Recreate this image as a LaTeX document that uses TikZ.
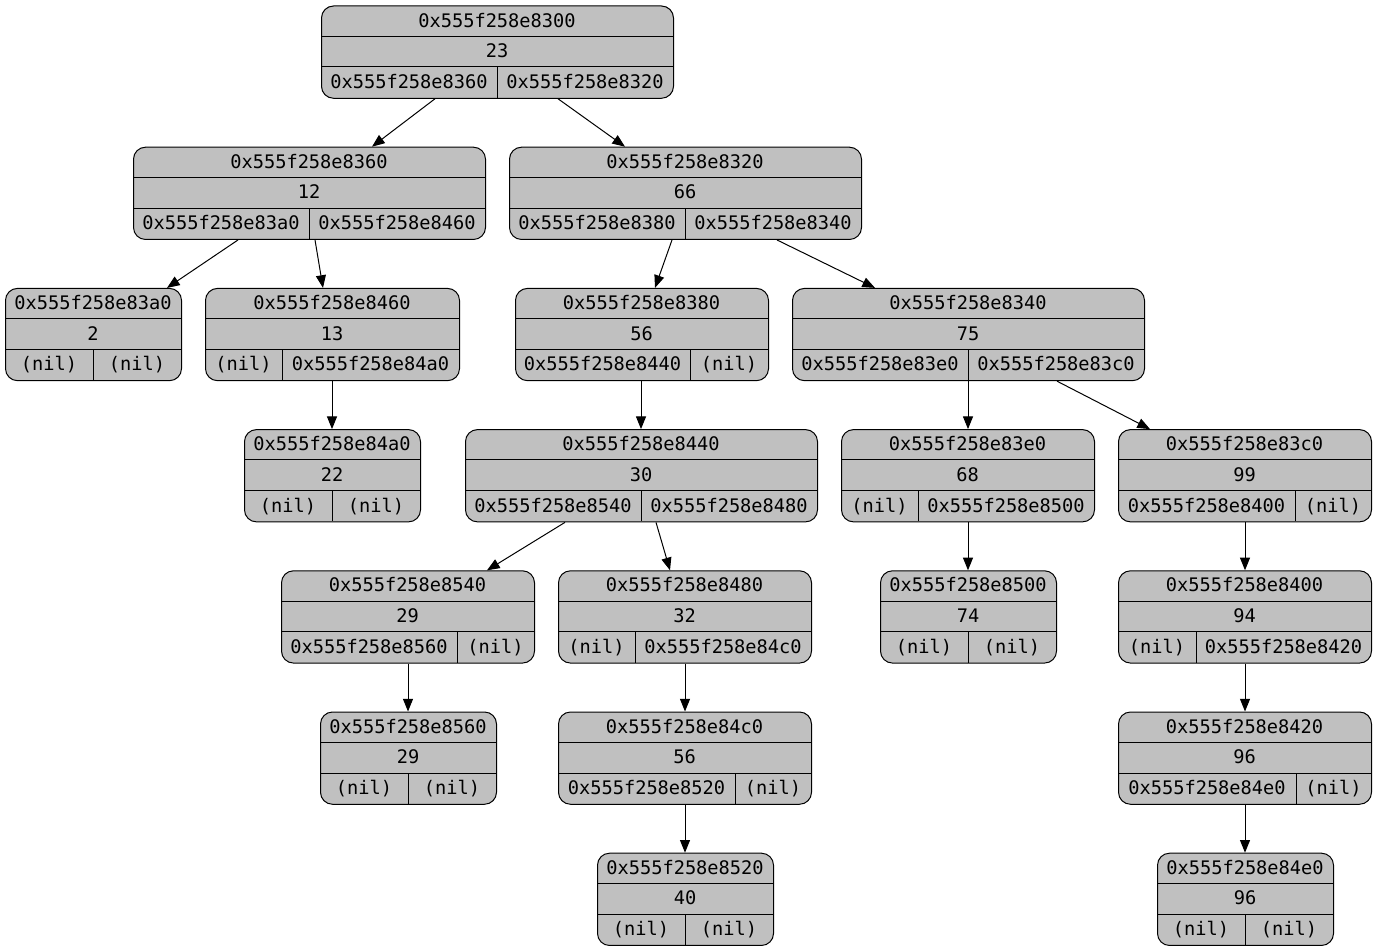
\documentclass[tikz,border=0pt]{standalone}
\usepackage{fontspec}
\setmonofont{DejaVu Sans Mono}
\usetikzlibrary{arrows.meta}
\definecolor{recgray}{HTML}{C0C0C0}
\tikzstyle{rS}=[rectangle,draw=black,fill=recgray,line width=0.75pt,rounded corners=9pt,inner sep=0pt,minimum height=69.2pt,anchor=north west]
\tikzstyle{tS}=[inner sep=0pt,font=\ttfamily\fontsize{14}{16}\selectfont,text height=10pt,text depth=3pt]
\tikzstyle{dS}=[line width=0.75pt]
\tikzstyle{eS}=[line width=0.75pt,-{Triangle[length=9.5pt,width=7.5pt]}]
% record: name, left, right, top, split, address, value, left child, right child
\newcommand{\recnode}[9]{%
  \node[rS,minimum width={(#3-#2)*0.75pt}] (#1) at (#2,#4) {};
  \node[tS] (#1a) at ({(#2+#3)/2},#4+16.9) {#6};
  \node[tS] (#1v) at ({(#2+#3)/2},#4+47.6) {#7};
  \node[tS] (#1l) at ({(#2+#5)/2},#4+78.4) {#8};
  \node[tS] (#1r) at ({(#5+#3)/2},#4+78.4) {#9};
  \draw[dS] (#2,#4+30.8) -- (#3,#4+30.8);
  \draw[dS] (#2,#4+61.5) -- (#3,#4+61.5);
  \draw[dS] (#5,#4+61.5) -- (#5,#4+92.3);
}
\begin{document}
\begin{tikzpicture}[x=0.75pt,y=-0.75pt]
  \useasboundingbox (0,0) rectangle (1377,952);
  % level 0
  \recnode{n8300}{321}{673}{5.5}{497}{0x555f258e8300}{23}{0x555f258e8360}{0x555f258e8320}
  % level 1
  \recnode{n8360}{133}{485}{146.7}{309}{0x555f258e8360}{12}{0x555f258e83a0}{0x555f258e8460}
  \recnode{n8320}{509}{861}{146.7}{685}{0x555f258e8320}{66}{0x555f258e8380}{0x555f258e8340}
  % level 2
  \recnode{n83a0}{5}{181}{287.9}{93}{0x555f258e83a0}{2}{(nil)}{(nil)}
  \recnode{n8460}{205}{459}{287.9}{282}{0x555f258e8460}{13}{(nil)}{0x555f258e84a0}
  \recnode{n8380}{515}{768}{287.9}{690}{0x555f258e8380}{56}{0x555f258e8440}{(nil)}
  \recnode{n8340}{792}{1144}{287.9}{968}{0x555f258e8340}{75}{0x555f258e83e0}{0x555f258e83c0}
  % level 3
  \recnode{n84a0}{244}{420}{429.1}{332}{0x555f258e84a0}{22}{(nil)}{(nil)}
  \recnode{n8440}{465}{817}{429.1}{641}{0x555f258e8440}{30}{0x555f258e8540}{0x555f258e8480}
  \recnode{n83e0}{841}{1094}{429.1}{918}{0x555f258e83e0}{68}{(nil)}{0x555f258e8500}
  \recnode{n83c0}{1118}{1371}{429.1}{1295}{0x555f258e83c0}{99}{0x555f258e8400}{(nil)}
  % level 4
  \recnode{n8540}{281}{534}{570.3}{457}{0x555f258e8540}{29}{0x555f258e8560}{(nil)}
  \recnode{n8480}{558}{811}{570.3}{635}{0x555f258e8480}{32}{(nil)}{0x555f258e84c0}
  \recnode{n8500}{880}{1056}{570.3}{968}{0x555f258e8500}{74}{(nil)}{(nil)}
  \recnode{n8400}{1118}{1371}{570.3}{1196}{0x555f258e8400}{94}{(nil)}{0x555f258e8420}
  % level 5
  \recnode{n8560}{320}{496}{711.5}{408}{0x555f258e8560}{29}{(nil)}{(nil)}
  \recnode{n84c0}{558}{811}{711.5}{735}{0x555f258e84c0}{56}{0x555f258e8520}{(nil)}
  \recnode{n8420}{1118}{1371}{711.5}{1296}{0x555f258e8420}{96}{0x555f258e84e0}{(nil)}
  % level 6
  \recnode{n8520}{597}{773}{852.7}{685}{0x555f258e8520}{40}{(nil)}{(nil)}
  \recnode{n84e0}{1157}{1333}{852.7}{1245}{0x555f258e84e0}{96}{(nil)}{(nil)}
  % edges
  \draw[eS] ([shift={(114,0)}]n8300.south west) -- ([shift={(239,0)}]n8360.north west);
  \draw[eS] ([shift={(237,0)}]n8300.south west) -- ([shift={(116,0)}]n8320.north west);
  \draw[eS] ([shift={(105,0)}]n8360.south west) -- ([shift={(162,0)}]n83a0.north west);
  \draw[eS] ([shift={(182,0)}]n8360.south west) -- ([shift={(118,0)}]n8460.north west);
  \draw[eS] ([shift={(163,0)}]n8320.south west) -- ([shift={(140,0)}]n8380.north west);
  \draw[eS] ([shift={(268,0)}]n8320.south west) -- ([shift={(83,0)}]n8340.north west);
  \draw[eS] ([shift={(127,0)}]n8460.south west) -- ([shift={(88,0)}]n84a0.north west);
  \draw[eS] ([shift={(126,0)}]n8380.south west) -- ([shift={(176,0)}]n8440.north west);
  \draw[eS] ([shift={(176,0)}]n8340.south west) -- ([shift={(127,0)}]n83e0.north west);
  \draw[eS] ([shift={(265,0)}]n8340.south west) -- ([shift={(32,0)}]n83c0.north west);
  \draw[eS] ([shift={(100,0)}]n8440.south west) -- ([shift={(206,0)}]n8540.north west);
  \draw[eS] ([shift={(191,0)}]n8440.south west) -- ([shift={(112,0)}]n8480.north west);
  \draw[eS] ([shift={(127,0)}]n83e0.south west) -- ([shift={(88,0)}]n8500.north west);
  \draw[eS] ([shift={(127,0)}]n83c0.south west) -- ([shift={(127,0)}]n8400.north west);
  \draw[eS] ([shift={(127,0)}]n8540.south west) -- ([shift={(88,0)}]n8560.north west);
  \draw[eS] ([shift={(127,0)}]n8480.south west) -- ([shift={(127,0)}]n84c0.north west);
  \draw[eS] ([shift={(127,0)}]n8400.south west) -- ([shift={(127,0)}]n8420.north west);
  \draw[eS] ([shift={(127,0)}]n84c0.south west) -- ([shift={(88,0)}]n8520.north west);
  \draw[eS] ([shift={(127,0)}]n8420.south west) -- ([shift={(88,0)}]n84e0.north west);
\end{tikzpicture}
\end{document}
